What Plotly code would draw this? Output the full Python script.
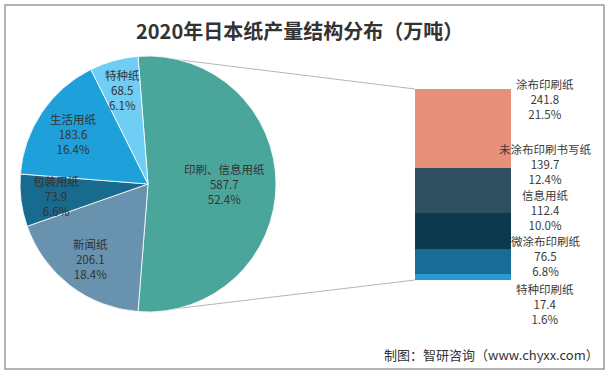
import math
import plotly.graph_objects as go

# ---------------- data ----------------
title_text = "2020年日本纸产量结构分布（万吨）"
source_text = "制图：智研咨询（www.chyxx.com）"

pie_labels = ["印刷、信息用纸", "新闻纸", "包装用纸", "生活用纸", "特种纸"]
pie_values = [587.7, 206.1, 73.9, 183.6, 68.5]
pie_pcts = ["52.4%", "18.4%", "6.6%", "16.4%", "6.1%"]

bar_labels = ["涂布印刷纸", "未涂布印刷书写纸", "信息用纸", "微涂布印刷纸", "特种印刷纸"]
bar_values = [241.8, 139.7, 112.4, 76.5, 17.4]
bar_pcts = ["21.5%", "12.4%", "10.0%", "6.8%", "1.6%"]

# ---------------- styles / layout ----------------
W, H = 609, 373
FONT = "Noto Sans CJK SC"
pie_colors = ["#4aa69b", "#6892ae", "#186a8e", "#1ea0da", "#70cdf3"]
bar_colors = ["#e8917a", "#2d4f5f", "#0c394d", "#176d95", "#2a9ad0"]
pie_label_radius = [0.60, 0.74, 0.72, 0.70, 0.76]
bar_label_shift = [29, 26, 21.5, 6, -27]

pie_cx, pie_cy, pie_r = 148, 184, 128          # px, from top-left
bar_left, bar_right, bar_top, bar_bottom = 415, 511, 89, 280   # px
bar_label_x = 545


def px_x(v):
    return v / W


def px_y(v):
    return 1 - v / H


fig = go.Figure()

total = sum(pie_values)
first_angle = 90 - 360 * pie_values[0] / total / 2  # center first slice at 3 o'clock

fig.add_trace(go.Pie(
    labels=pie_labels,
    values=pie_values,
    sort=False,
    direction="clockwise",
    rotation=first_angle,
    marker=dict(colors=pie_colors, line=dict(color="rgba(255,255,255,0.8)", width=1)),
    textinfo="none",
    hoverinfo="label+value+percent",
    showlegend=False,
    domain=dict(x=[px_x(pie_cx - pie_r), px_x(pie_cx + pie_r)],
                y=[px_y(pie_cy + pie_r), px_y(pie_cy - pie_r)]),
))

# stacked bar, bottom to top
for lab, val, col in reversed(list(zip(bar_labels, bar_values, bar_colors))):
    fig.add_trace(go.Bar(
        x=[0], y=[val], name=lab, width=1,
        marker=dict(color=col, line=dict(width=0)),
        showlegend=False, hoverinfo="name+y",
    ))

bar_total = sum(bar_values)

annotations = []
# pie labels
cum = 0
for lab, val, pct, f in zip(pie_labels, pie_values, pie_pcts, pie_label_radius):
    mid = math.radians(first_angle + 360 * (cum + val / 2) / total)
    cum += val
    lx = pie_cx + f * pie_r * math.sin(mid)
    ly = pie_cy - f * pie_r * math.cos(mid)
    annotations.append(dict(
        x=px_x(lx), y=px_y(ly), xref="paper", yref="paper",
        xanchor="center", yanchor="middle",
        text=f"{lab}<br>{val}<br>{pct}", showarrow=False,
        font=dict(family=FONT, size=11.5, color="#333333"), align="center",
    ))

# bar labels
top = bar_total
for lab, val, pct, sh in zip(bar_labels, bar_values, bar_pcts, bar_label_shift):
    center = top - val / 2
    top -= val
    annotations.append(dict(
        x=px_x(bar_label_x), y=center, xref="paper", yref="y",
        xanchor="center", yanchor="middle", yshift=sh,
        text=f"{lab}<br>{val}<br>{pct}",
        showarrow=False, borderpad=0,
        font=dict(family=FONT, size=11.5, color="#3a3a3a"), align="center",
    ))

annotations.append(dict(
    x=px_x(299), y=px_y(30), xref="paper", yref="paper", text=f"<b>{title_text}</b>",
    xanchor="center", yanchor="middle",
    showarrow=False, font=dict(family=FONT, size=20, color="#333333"),
))
annotations.append(dict(
    x=px_x(601), y=px_y(354), xref="paper", yref="paper", text=source_text,
    xanchor="right", yanchor="middle", showarrow=False,
    font=dict(family=FONT, size=13, color="#333333"),
))

shapes = [
    # connector lines (pie top -> bar top, pie bottom -> bar bottom)
    dict(type="line", xref="paper", yref="paper", layer="below",
         x0=px_x(pie_cx), y0=px_y(pie_cy - pie_r), x1=px_x(bar_left), y1=px_y(bar_top),
         line=dict(color="#b5b5b5", width=1)),
    dict(type="line", xref="paper", yref="paper", layer="below",
         x0=px_x(pie_cx), y0=px_y(pie_cy + pie_r), x1=px_x(bar_left), y1=px_y(bar_bottom),
         line=dict(color="#b5b5b5", width=1)),
    # frame
    dict(type="rect", xref="paper", yref="paper", layer="below",
         x0=px_x(5), y0=px_y(369), x1=px_x(604), y1=px_y(5),
         line=dict(color="#9a9a9a", width=1.5)),
]

fig.update_layout(
    width=W, height=H,
    margin=dict(l=0, r=0, t=0, b=0),
    paper_bgcolor="white", plot_bgcolor="rgba(0,0,0,0)",
    barmode="stack",
    xaxis=dict(domain=[px_x(bar_left), px_x(bar_right)], range=[-0.5, 0.5],
               visible=False, fixedrange=True),
    yaxis=dict(domain=[px_y(bar_bottom), px_y(bar_top)], range=[0, bar_total],
               visible=False, fixedrange=True),
    annotations=annotations,
    shapes=shapes,
    font=dict(family=FONT),
)

fig.write_html(
    "out.html",
    config={"displayModeBar": False},
    post_script="document.body.style.margin='0';document.body.style.overflow='hidden';",
)
